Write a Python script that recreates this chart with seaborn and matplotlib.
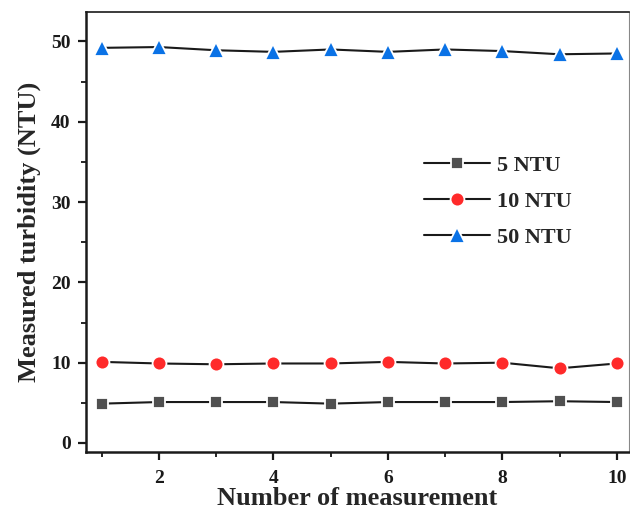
import matplotlib
matplotlib.use("Agg")
import matplotlib.pyplot as plt
import seaborn as sns
import pandas as pd
from matplotlib.ticker import MultipleLocator

measurement = [1, 2, 3, 4, 5, 6, 7, 8, 9, 10]
ntu5 = [4.9, 5.1, 5.1, 5.1, 4.9, 5.1, 5.1, 5.1, 5.2, 5.1]
ntu10 = [10.1, 9.9, 9.8, 9.9, 9.9, 10.1, 9.9, 10.0, 9.3, 9.9]
ntu50 = [49.2, 49.3, 48.9, 48.7, 49.0, 48.7, 49.0, 48.8, 48.4, 48.5]
series_names = ["5 NTU", "10 NTU", "50 NTU"]

sns.set_theme(style="ticks")
plt.rcParams["font.family"] = ["Liberation Serif", "DejaVu Serif"]
plt.rcParams["font.weight"] = "bold"

fig = plt.figure(figsize=(6.3, 5.09), dpi=100)
ax = fig.add_axes([0.1365, 0.112, 0.8615, 0.865])

styles = [
    dict(marker="s", mfc="#505050", ms=9),
    dict(marker="o", mfc="#ff2a2a", ms=10),
    dict(marker="^", mfc="#0a72e6", ms=11),
]
for name, vals, st in zip(series_names, [ntu5, ntu10, ntu50], styles):
    df = pd.DataFrame({"x": measurement, "y": vals})
    sns.lineplot(data=df, x="x", y="y", ax=ax, color="#1a1a1a", linewidth=1.5,
                 marker=st["marker"], markersize=st["ms"],
                 markerfacecolor=st["mfc"], markeredgecolor="white",
                 markeredgewidth=1.3, label=name)

ax.set_xlim(0.724, 10.21)
ax.set_ylim(-1.12, 53.7)
ax.xaxis.set_major_locator(MultipleLocator(2))
ax.xaxis.set_minor_locator(MultipleLocator(1))
ax.yaxis.set_major_locator(MultipleLocator(10))
ax.yaxis.set_minor_locator(MultipleLocator(5))
ax.tick_params(axis="both", which="major", direction="out", length=6, width=1.6,
               labelsize=14, colors="#1a1a1a")
ax.tick_params(axis="x", which="major", pad=7)
ax.tick_params(axis="y", which="major", pad=5)
ax.tick_params(axis="both", which="minor", direction="out", length=3.5, width=1.4)
for lab in ax.get_xticklabels() + ax.get_yticklabels():
    lab.set_fontweight("bold")

ax.spines["left"].set_linewidth(1.8)
ax.spines["bottom"].set_linewidth(1.8)
ax.spines["top"].set_linewidth(1.2)
ax.spines["right"].set_linewidth(0.8)
ax.spines["right"].set_color("#888888")
for s in ["left", "bottom", "top"]:
    ax.spines[s].set_color("#1a1a1a")

ax.set_xlabel("Number of measurement", fontsize=19, fontweight="bold", labelpad=0)
ax.set_ylabel("Measured turbidity (NTU)", fontsize=19, fontweight="bold", labelpad=7)

leg = ax.legend(loc="upper left", bbox_to_anchor=(0.585, 0.72), frameon=False,
                handlelength=3.0, handletextpad=0.3, labelspacing=0.7,
                prop={"weight": "bold", "size": 16})

fig.savefig("out.png", dpi=100)
